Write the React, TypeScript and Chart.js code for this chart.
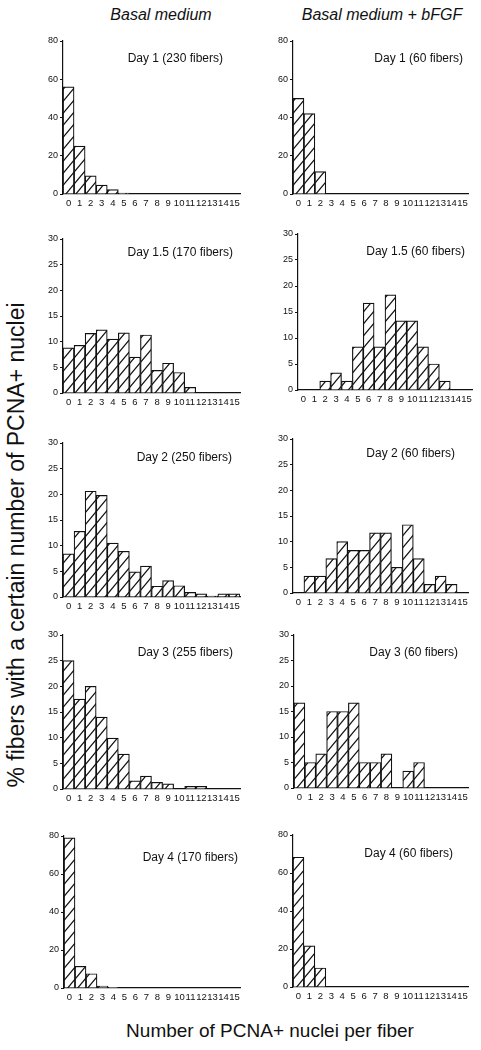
import React, { useEffect, useRef } from 'react';
import { Chart, registerables } from 'chart.js';
Chart.register(...registerables);

// ---- data ----
const nucleiLabels = ['0','1','2','3','4','5','6','7','8','9','10','11','12','13','14','15'];

const basalDay1 = [56, 25, 9.5, 4.7, 2.3, 0.5, 0, 0, 0, 0, 0, 0, 0, 0, 0, 0];
const fgfDay1 = [50, 42, 11.7, 0, 0, 0, 0, 0, 0, 0, 0, 0, 0, 0, 0, 0];
const basalDay15 = [8.8, 9.3, 11.6, 12.3, 10.5, 11.7, 7.0, 11.3, 4.4, 5.8, 4.0, 1.1, 0, 0, 0, 0];
const fgfDay15 = [0, 0, 1.7, 3.3, 1.7, 8.3, 16.7, 8.3, 18.3, 13.3, 13.3, 8.3, 5, 1.7, 0, 0];
const basalDay2 = [8.4, 12.8, 20.6, 19.8, 10.5, 8.9, 4.9, 6.0, 2.1, 3.2, 2.2, 0.9, 0.6, 0.2, 0.6, 0.6];
const fgfDay2 = [0, 3.3, 3.3, 6.7, 10, 8.3, 8.3, 11.7, 11.7, 5, 13.3, 6.7, 1.7, 3.3, 1.7, 0];
const basalDay3 = [25, 17.5, 20, 14, 9.9, 6.8, 1.6, 2.5, 1.3, 1.0, 0, 0.5, 0.5, 0, 0, 0];
const fgfDay3 = [16.7, 5, 6.7, 15, 15, 16.7, 5, 5, 6.7, 0, 3.3, 5, 0, 0, 0, 0];
const basalDay4 = [79, 11.4, 7.5, 1, 0.4, 0, 0, 0, 0, 0, 0, 0, 0, 0, 0, 0];
const fgfDay4 = [68.3, 21.7, 10, 0, 0, 0, 0, 0, 0, 0, 0, 0, 0, 0, 0, 0];

const panelTitles = [
  'Day 1 (230 fibers)', 'Day 1 (60 fibers)',
  'Day 1.5 (170 fibers)', 'Day 1.5 (60 fibers)',
  'Day 2 (250 fibers)', 'Day 2 (60 fibers)',
  'Day 3 (255 fibers)', 'Day 3 (60 fibers)',
  'Day 4 (170 fibers)', 'Day 4 (60 fibers)',
];
const panelData = [basalDay1, fgfDay1, basalDay15, fgfDay15, basalDay2, fgfDay2, basalDay3, fgfDay3, basalDay4, fgfDay4];
const yMaxes = [80, 80, 30, 30, 30, 30, 30, 30, 80, 80];
const ySteps = [20, 20, 5, 5, 5, 5, 5, 5, 20, 20];

const columnTitles = ['Basal medium', 'Basal medium + bFGF'];
const xTitle = 'Number of PCNA+ nuclei per fiber';
const yTitle = '% fibers with a certain number of PCNA+ nuclei';

// ---- layout (page pixels) ----
const layout = [
  { ax: 63, end: 240, top: 41, zero: 194, lx: 223, ly: 58 },
  { ax: 293, end: 468, top: 41, zero: 194, lx: 463, ly: 58 },
  { ax: 63, end: 240, top: 239, zero: 393, lx: 233, ly: 252 },
  { ax: 298, end: 472, top: 234, zero: 390, lx: 465, ly: 251 },
  { ax: 63, end: 240, top: 443, zero: 597, lx: 232, ly: 457 },
  { ax: 293, end: 468, top: 439, zero: 593, lx: 455, ly: 453 },
  { ax: 63, end: 240, top: 635, zero: 789, lx: 233, ly: 652 },
  { ax: 294, end: 468, top: 635, zero: 788, lx: 458, ly: 652 },
  { ax: 64, end: 240, top: 836, zero: 988, lx: 238, ly: 857 },
  { ax: 293, end: 468, top: 835, zero: 987, lx: 453, ly: 853 },
];

const FONT = '"Liberation Sans", Arial, Helvetica, sans-serif';
const INK = '#111111';
const YW = 33, XH = 20, PT = 8, PR = 4;

function makeHatch(): CanvasPattern | string {
  const c = document.createElement('canvas');
  c.width = 10; c.height = 12;
  const g = c.getContext('2d');
  if (!g) return '#fff';
  g.fillStyle = '#fff';
  g.fillRect(0, 0, 10, 12);
  g.strokeStyle = INK;
  g.lineWidth = 1.2;
  g.beginPath();
  g.moveTo(0, 12); g.lineTo(10, 0);
  g.moveTo(-2, 2.4); g.lineTo(2, -2.4);
  g.moveTo(8, 14.4); g.lineTo(12, 9.6);
  g.stroke();
  return g.createPattern(c, 'repeat') || '#fff';
}

function Panel({ idx }: { idx: number }) {
  const ref = useRef<HTMLCanvasElement>(null);
  const L = layout[idx];
  const W = YW + (L.end - L.ax) + PR;
  const H = PT + (L.zero - L.top) + XH;
  useEffect(() => {
    if (!ref.current) return;
    const chart = new Chart(ref.current, {
      type: 'bar',
      data: {
        labels: nucleiLabels,
        datasets: [{
          data: panelData[idx],
          backgroundColor: makeHatch() as any,
          borderColor: INK,
          borderWidth: 1.2,
          barPercentage: 1,
          categoryPercentage: 1,
        }],
      },
      options: {
        responsive: false,
        animation: false,
        events: [],
        layout: { padding: { top: PT, right: PR, left: 0, bottom: 0 } },
        plugins: { legend: { display: false }, tooltip: { enabled: false }, title: { display: false } },
        scales: {
          x: {
            type: 'category',
            grid: { display: false, drawTicks: false },
            border: { display: true, color: INK, width: 1.2 },
            ticks: { autoSkip: false, maxRotation: 0, minRotation: 0, padding: 4, color: INK, font: { family: FONT, size: 9.5 } },
            afterFit: (s: any) => { s.height = XH; },
          },
          y: {
            min: 0,
            max: yMaxes[idx],
            ticks: { stepSize: ySteps[idx], padding: 2, color: INK, font: { family: FONT, size: 9 } },
            grid: { display: true, drawOnChartArea: false, drawTicks: true, tickLength: 3, color: INK },
            border: { display: true, color: INK, width: 1.2 },
            afterFit: (s: any) => { s.width = YW; },
          },
        },
      },
    });
    return () => chart.destroy();
  }, [idx]);
  return (
    <canvas
      ref={ref}
      width={W}
      height={H}
      style={{ position: 'absolute', left: L.ax - YW, top: L.top - PT, width: W, height: H }}
    />
  );
}

export default function App() {
  return (
    <div style={{ position: 'absolute', left: 0, top: 0, width: 481, height: 1050, background: '#fff', overflow: 'hidden', fontFamily: FONT, color: INK }}>
      <div style={{ position: 'absolute', left: 61, width: 200, top: 5, textAlign: 'center', fontSize: 16, fontStyle: 'italic', lineHeight: '20px' }}>{columnTitles[0]}</div>
      <div style={{ position: 'absolute', left: 282, width: 200, top: 5, textAlign: 'center', fontSize: 16, fontStyle: 'italic', lineHeight: '20px' }}>{columnTitles[1]}</div>
      {layout.map((_, i) => <Panel key={i} idx={i} />)}
      {layout.map((L, i) => (
        <div key={'t' + i} style={{ position: 'absolute', left: L.lx - 200, width: 200, top: L.ly - 7, textAlign: 'right', fontSize: 12, lineHeight: '14px', whiteSpace: 'nowrap' }}>{panelTitles[i]}</div>
      ))}
      <div style={{ position: 'absolute', left: 20, width: 500, top: 1020, textAlign: 'center', fontSize: 19, lineHeight: '22px', whiteSpace: 'nowrap' }}>{xTitle}</div>
      <div style={{ position: 'absolute', left: 16 - 300, width: 600, top: 545 - 13, height: 26, textAlign: 'center', fontSize: 23, lineHeight: '26px', whiteSpace: 'nowrap', transform: 'rotate(-90deg)' }}>{yTitle}</div>
    </div>
  );
}
